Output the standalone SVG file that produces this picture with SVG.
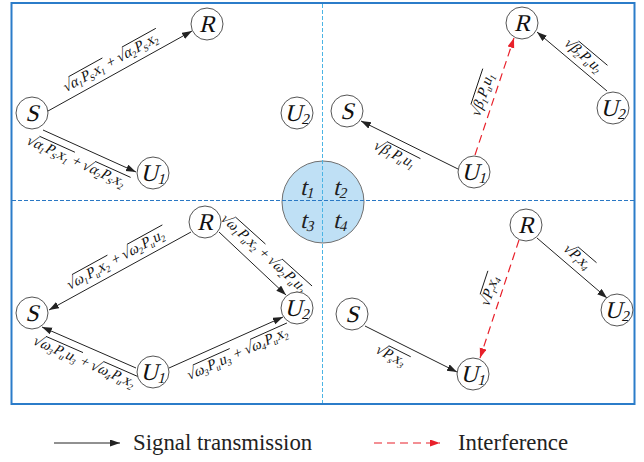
<svg xmlns="http://www.w3.org/2000/svg" width="644" height="462" viewBox="0 0 644 462" font-family="'Liberation Serif','Times New Roman',serif">
<style>
.nd circle{fill:#fff;stroke:#555;stroke-width:1}
.nl{font-family:'Liberation Serif','Times New Roman',serif;font-size:24px;text-anchor:middle;fill:#111}
.ns{font-size:15px}
.lb{font-family:'Liberation Serif','Times New Roman',serif;font-size:14px;fill:#111}
.s{font-size:8.5px}
.ov{stroke:#111;stroke-width:0.8;fill:none}
.ln{stroke:#222;stroke-width:1;fill:none;marker-end:url(#ab)}
.rd{stroke:#e8202a;stroke-width:1.2;stroke-dasharray:8 5;fill:none;marker-end:url(#ar)}
.tt{font-family:'Liberation Serif','Times New Roman',serif;font-size:24px;text-anchor:middle;fill:#222}
.leg{font-family:'Liberation Serif','Times New Roman',serif;font-size:22.8px;fill:#222}
</style>
<defs>
<marker id="ab" markerUnits="userSpaceOnUse" markerWidth="11" markerHeight="8" refX="10" refY="3.5" orient="auto"><path d="M0,0L10,3.5L0,7z" fill="#222"/></marker>
<marker id="ar" markerUnits="userSpaceOnUse" markerWidth="11" markerHeight="8" refX="10" refY="3.5" orient="auto"><path d="M0,0L10,3.5L0,7z" fill="#e8202a"/></marker>
</defs>
<rect x="11.5" y="3" width="623" height="401" fill="#fff" stroke="#2b7cc9" stroke-width="2"/>
<g id="timeslot">
<circle cx="323" cy="202" r="41" fill="#bfe0f5" stroke="#707070" stroke-width="1"/>
<line x1="12" y1="200.5" x2="634" y2="200.5" stroke="#2a78c4" stroke-width="1" stroke-dasharray="4 2"/>
<line x1="322.5" y1="4" x2="322.5" y2="403" stroke="#4bb4e4" stroke-width="1" stroke-dasharray="4 2"/>
<text class="tt" transform="translate(307,195) skewX(-14)">t<tspan class="ns" dy="3">1</tspan></text>
<text class="tt" transform="translate(340,195) skewX(-14)">t<tspan class="ns" dy="3">2</tspan></text>
<text class="tt" transform="translate(307,228) skewX(-14)">t<tspan class="ns" dy="3">3</tspan></text>
<text class="tt" transform="translate(340,228) skewX(-14)">t<tspan class="ns" dy="3">4</tspan></text>
</g>
<g id="connectors">
<path class="ln" d="M48,111L192,31"/>
<path class="ln" d="M43,130L136,172"/>
<path class="ln" d="M458,169L361,121"/>
<path class="rd" d="M475,155L514,38"/>
<path class="ln" d="M607,91L537,32"/>
<path class="ln" d="M191,232L49,310"/>
<path class="ln" d="M219,232L286,295"/>
<path class="ln" d="M136,368L42,327"/>
<path class="ln" d="M169,368L283,317"/>
<path class="ln" d="M365,326L457,372"/>
<path class="ln" d="M537,238L607,298"/>
<path class="rd" d="M519,240L480,358"/>
</g>
<g id="labels">
<g transform="translate(110.7,61.3) rotate(-29) scale(1.07) skewX(-14)"><text class="lb" y="5"><tspan x="-50.2">√</tspan><tspan x="-42.5">α</tspan><tspan class="s" dy="3">1</tspan><tspan dy="-3">P</tspan><tspan class="s" dy="3">S</tspan><tspan dy="-3">x</tspan><tspan class="s" dy="3">1</tspan><tspan x="-3.95" dy="-3">+</tspan><tspan x="6.95">√</tspan><tspan x="14.65">α</tspan><tspan class="s" dy="3">2</tspan><tspan dy="-3">P</tspan><tspan class="s" dy="3">S</tspan><tspan dy="-3">x</tspan><tspan class="s" dy="3">2</tspan></text><path class="ov" d="M-43.2,-6.5H-6.9M13.95,-6.5H50.2"/></g>
<g transform="translate(77.2,160.9) rotate(24.3) scale(1.07) skewX(-14)"><text class="lb" y="5"><tspan x="-50.2">√</tspan><tspan x="-42.5">α</tspan><tspan class="s" dy="3">1</tspan><tspan dy="-3">P</tspan><tspan class="s" dy="3">S</tspan><tspan dy="-3">x</tspan><tspan class="s" dy="3">1</tspan><tspan x="-3.95" dy="-3">+</tspan><tspan x="6.95">√</tspan><tspan x="14.65">α</tspan><tspan class="s" dy="3">2</tspan><tspan dy="-3">P</tspan><tspan class="s" dy="3">S</tspan><tspan dy="-3">x</tspan><tspan class="s" dy="3">2</tspan></text><path class="ov" d="M-43.2,-6.5H-6.9M13.95,-6.5H50.2"/></g>
<g transform="translate(395.6,153.8) rotate(27) scale(1.07) skewX(-14)"><text class="lb" y="5"><tspan x="-21.1">√</tspan><tspan x="-13.4">β</tspan><tspan class="s" dy="3">1</tspan><tspan dy="-3">P</tspan><tspan class="s" dy="3">u</tspan><tspan dy="-3">u</tspan><tspan class="s" dy="3">1</tspan></text><path class="ov" d="M-14.1,-6.5H21.1"/></g>
<g transform="translate(481.7,93.9) rotate(-71.6) scale(1.07) skewX(-14)"><text class="lb" y="5"><tspan x="-21.1">√</tspan><tspan x="-13.4">β</tspan><tspan class="s" dy="3">1</tspan><tspan dy="-3">P</tspan><tspan class="s" dy="3">u</tspan><tspan dy="-3">u</tspan><tspan class="s" dy="3">1</tspan></text><path class="ov" d="M-14.1,-6.5H21.1"/></g>
<g transform="translate(584.4,55) rotate(40.1) scale(1.07) skewX(-14)"><text class="lb" y="5"><tspan x="-21.1">√</tspan><tspan x="-13.4">β</tspan><tspan class="s" dy="3">2</tspan><tspan dy="-3">P</tspan><tspan class="s" dy="3">u</tspan><tspan dy="-3">u</tspan><tspan class="s" dy="3">2</tspan></text><path class="ov" d="M-14.1,-6.5H21.1"/></g>
<g transform="translate(115.7,258.5) rotate(-28.8) scale(1.07) skewX(-14)"><text class="lb" y="5"><tspan x="-51.7">√</tspan><tspan x="-44">ω</tspan><tspan class="s" dy="3">1</tspan><tspan dy="-3">P</tspan><tspan class="s" dy="3">u</tspan><tspan dy="-3">x</tspan><tspan class="s" dy="3">2</tspan><tspan x="-3.95" dy="-3">+</tspan><tspan x="6.95">√</tspan><tspan x="14.65">ω</tspan><tspan class="s" dy="3">2</tspan><tspan dy="-3">P</tspan><tspan class="s" dy="3">u</tspan><tspan dy="-3">u</tspan><tspan class="s" dy="3">2</tspan></text><path class="ov" d="M-44.7,-6.5H-6.9M13.95,-6.5H51.7"/></g>
<g transform="translate(265,253) rotate(42) scale(1.07) skewX(-14)"><text class="lb" y="5"><tspan x="-51.7">√</tspan><tspan x="-44">ω</tspan><tspan class="s" dy="3">1</tspan><tspan dy="-3">P</tspan><tspan class="s" dy="3">u</tspan><tspan dy="-3">x</tspan><tspan class="s" dy="3">2</tspan><tspan x="-3.95" dy="-3">+</tspan><tspan x="6.95">√</tspan><tspan x="14.65">ω</tspan><tspan class="s" dy="3">2</tspan><tspan dy="-3">P</tspan><tspan class="s" dy="3">u</tspan><tspan dy="-3">u</tspan><tspan class="s" dy="3">2</tspan></text><path class="ov" d="M-44.7,-6.5H-6.9M13.95,-6.5H51.7"/></g>
<g transform="translate(85.4,361.2) rotate(23.6) scale(1.07) skewX(-14)"><text class="lb" y="5"><tspan x="-51.7">√</tspan><tspan x="-44">ω</tspan><tspan class="s" dy="3">3</tspan><tspan dy="-3">P</tspan><tspan class="s" dy="3">u</tspan><tspan dy="-3">u</tspan><tspan class="s" dy="3">3</tspan><tspan x="-3.95" dy="-3">+</tspan><tspan x="6.95">√</tspan><tspan x="14.65">ω</tspan><tspan class="s" dy="3">4</tspan><tspan dy="-3">P</tspan><tspan class="s" dy="3">u</tspan><tspan dy="-3">x</tspan><tspan class="s" dy="3">2</tspan></text><path class="ov" d="M-44.7,-6.5H-6.9M13.95,-6.5H51.7"/></g>
<g transform="translate(237.7,352.6) rotate(-24.1) scale(1.07) skewX(-14)"><text class="lb" y="5"><tspan x="-51.7">√</tspan><tspan x="-44">ω</tspan><tspan class="s" dy="3">3</tspan><tspan dy="-3">P</tspan><tspan class="s" dy="3">u</tspan><tspan dy="-3">u</tspan><tspan class="s" dy="3">3</tspan><tspan x="-3.95" dy="-3">+</tspan><tspan x="6.95">√</tspan><tspan x="14.65">ω</tspan><tspan class="s" dy="3">4</tspan><tspan dy="-3">P</tspan><tspan class="s" dy="3">u</tspan><tspan dy="-3">x</tspan><tspan class="s" dy="3">2</tspan></text><path class="ov" d="M-44.7,-6.5H-6.9M13.95,-6.5H51.7"/></g>
<g transform="translate(391.7,355) rotate(26.6) scale(1.07) skewX(-14)"><text class="lb" y="5"><tspan x="-15">√</tspan><tspan x="-7.3">P</tspan><tspan class="s" dy="3">s</tspan><tspan dy="-3">x</tspan><tspan class="s" dy="3">3</tspan></text><path class="ov" d="M-8,-6.5H15"/></g>
<g transform="translate(578.5,256.4) rotate(40.6) scale(1.07) skewX(-14)"><text class="lb" y="5"><tspan x="-15">√</tspan><tspan x="-7.3">P</tspan><tspan class="s" dy="3">r</tspan><tspan dy="-3">x</tspan><tspan class="s" dy="3">4</tspan></text><path class="ov" d="M-8,-6.5H15"/></g>
<g transform="translate(488.9,289.9) rotate(-71.7) scale(1.07) skewX(-14)"><text class="lb" y="5"><tspan x="-15">√</tspan><tspan x="-7.3">P</tspan><tspan class="s" dy="3">r</tspan><tspan dy="-3">x</tspan><tspan class="s" dy="3">4</tspan></text><path class="ov" d="M-8,-6.5H15"/></g>
</g>
<g id="tl-S" class="nd"><circle cx="32" cy="113" r="16"/><text class="nl" transform="translate(32,121) skewX(-14)">S</text></g>
<g id="tl-R" class="nd"><circle cx="207" cy="24" r="16"/><text class="nl" transform="translate(207,32) skewX(-14)">R</text></g>
<g id="tl-U2" class="nd"><circle cx="297" cy="113" r="16"/><text class="nl" transform="translate(297,121) skewX(-14)">U<tspan class="ns" dy="3">2</tspan></text></g>
<g id="tl-U1" class="nd"><circle cx="153" cy="173" r="16"/><text class="nl" transform="translate(153,181) skewX(-14)">U<tspan class="ns" dy="3">1</tspan></text></g>
<g id="tr-R" class="nd"><circle cx="522" cy="23" r="16"/><text class="nl" transform="translate(522,31) skewX(-14)">R</text></g>
<g id="tr-S" class="nd"><circle cx="347" cy="111" r="16"/><text class="nl" transform="translate(347,119) skewX(-14)">S</text></g>
<g id="tr-U1" class="nd"><circle cx="474" cy="172" r="16"/><text class="nl" transform="translate(474,180) skewX(-14)">U<tspan class="ns" dy="3">1</tspan></text></g>
<g id="tr-U2" class="nd"><circle cx="613" cy="108" r="16"/><text class="nl" transform="translate(613,116) skewX(-14)">U<tspan class="ns" dy="3">2</tspan></text></g>
<g id="bl-R" class="nd"><circle cx="205" cy="222" r="16"/><text class="nl" transform="translate(205,230) skewX(-14)">R</text></g>
<g id="bl-S" class="nd"><circle cx="32" cy="313" r="16"/><text class="nl" transform="translate(32,321) skewX(-14)">S</text></g>
<g id="bl-U2" class="nd"><circle cx="297" cy="308" r="16"/><text class="nl" transform="translate(297,316) skewX(-14)">U<tspan class="ns" dy="3">2</tspan></text></g>
<g id="bl-U1" class="nd"><circle cx="153" cy="372" r="16"/><text class="nl" transform="translate(153,380) skewX(-14)">U<tspan class="ns" dy="3">1</tspan></text></g>
<g id="br-R" class="nd"><circle cx="526" cy="225" r="16"/><text class="nl" transform="translate(526,233) skewX(-14)">R</text></g>
<g id="br-S" class="nd"><circle cx="352" cy="314" r="16"/><text class="nl" transform="translate(352,322) skewX(-14)">S</text></g>
<g id="br-U1" class="nd"><circle cx="473" cy="374" r="16"/><text class="nl" transform="translate(473,382) skewX(-14)">U<tspan class="ns" dy="3">1</tspan></text></g>
<g id="br-U2" class="nd"><circle cx="617" cy="310" r="16"/><text class="nl" transform="translate(617,318) skewX(-14)">U<tspan class="ns" dy="3">2</tspan></text></g>
<g id="legend">
<path class="ln" d="M54,443H120"/>
<text class="leg" x="133" y="450">Signal transmission</text>
<path class="rd" d="M374,443H440"/>
<text class="leg" x="458" y="450">Interference</text>
</g>
</svg>
